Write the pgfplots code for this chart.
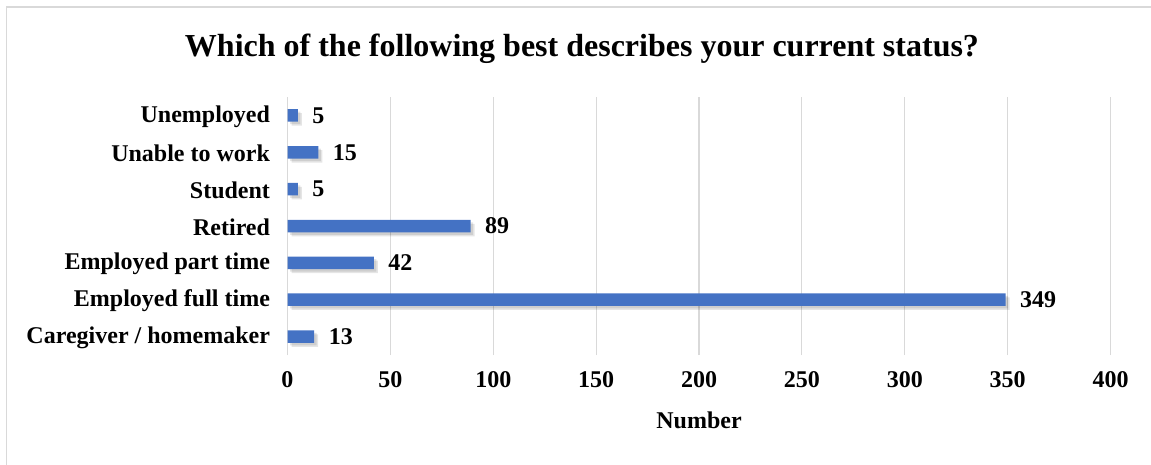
\documentclass[border=0pt]{standalone}
\usepackage{pgfplots}
\pgfplotsset{compat=1.18}
\usepackage{fontspec}
\setmainfont{Liberation Serif}
\definecolor{barblue}{HTML}{4472C4}
\definecolor{gridgray}{HTML}{D9D9D9}
\begin{document}
\begin{tikzpicture}[x=1pt,y=1pt]
\path[use as bounding box] (0,0) rectangle (1151,464);
\draw[gridgray, line width=1.2pt] (6.5,-10) -- (6.5,457) -- (1170,457);
\node[font=\fontsize{32}{36}\selectfont\bfseries] at (582,415) {Which of the following best describes your current status?};
\begin{axis}[
  at={(287.5pt,109pt)}, anchor=south west,
  scale only axis, width=823pt, height=258pt,
  xmin=0, xmax=400, ymin=-0.5, ymax=6.5,
  xtick={0,50,...,400},
  ytick={0,...,6},
  yticklabels={Caregiver / homemaker,Employed full time,Employed part time,Retired,Student,Unable to work,Unemployed},
  axis line style={draw=none},
  major tick length=0pt,
  xmajorgrids, major grid style={gridgray, line width=1.2pt},
  /pgf/number format/assume math mode=true,
  ticklabel style={font=\fontsize{24}{26}\selectfont\bfseries},
  xticklabel style={yshift=-13pt},
  yticklabel style={xshift=-14pt, yshift=-1pt},
  xlabel={Number},
  xlabel style={font=\fontsize{24}{26}\selectfont\bfseries, yshift=-17pt},
  clip=false,
]
\addplot[xbar, bar width=12.5pt, draw=none, fill=black, opacity=0.10, forget plot,
  transform canvas={xshift=4pt,yshift=-4pt}] coordinates {(13,0) (349,1) (42,2) (89,3) (5,4) (15,5) (5,6)};
\addplot[xbar, bar width=12.5pt, draw=none, fill=black, opacity=0.10, forget plot,
  transform canvas={xshift=2.5pt,yshift=-2.5pt}] coordinates {(13,0) (349,1) (42,2) (89,3) (5,4) (15,5) (5,6)};
\addplot[xbar, bar width=12.5pt, draw=none, fill=barblue,
  nodes near coords,
  every node near coord/.append style={font=\fontsize{24}{26}\selectfont\bfseries, black, xshift=11pt, opacity=1},
  ] coordinates {(13,0) (349,1) (42,2) (89,3) (5,4) (15,5) (5,6)};
\end{axis}
\end{tikzpicture}
\end{document}
